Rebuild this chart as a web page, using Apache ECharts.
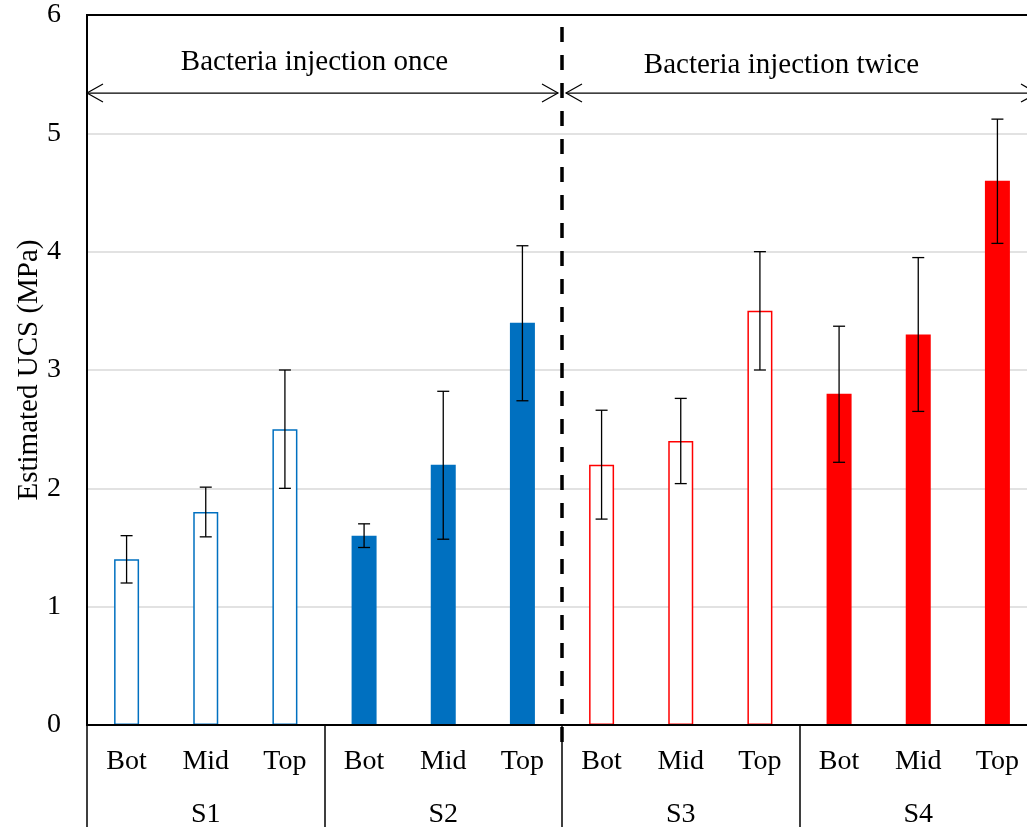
<!DOCTYPE html>
<html>
<head>
<meta charset="utf-8">
<script src="https://cdn.jsdelivr.net/npm/echarts@6/dist/echarts.min.js"></script>
<style>
  html, body { margin: 0; padding: 0; background: #fff; overflow: hidden; }
  #chart { width: 1027px; height: 827px; }
</style>
</head>
<body>
<div id="chart"></div>
<script>
// Sample positions within each column
const positions = ['Bot', 'Mid', 'Top', 'Bot', 'Mid', 'Top', 'Bot', 'Mid', 'Top', 'Bot', 'Mid', 'Top'];
// Sample groups (three positions each)
const groups = ['S1', 'S2', 'S3', 'S4'];
// Estimated UCS (MPa)
const ucs = [1.4, 1.8, 2.5, 1.6, 2.2, 3.4, 2.2, 2.4, 3.5, 2.8, 3.3, 4.6];
// Error bar range (MPa)
const errLow = [1.2, 1.59, 2.0, 1.5, 1.57, 2.74, 1.74, 2.04, 3.0, 2.22, 2.65, 4.07];
const errHigh = [1.6, 2.01, 3.0, 1.7, 2.82, 4.05, 2.66, 2.76, 4.0, 3.37, 3.95, 5.12];
// Treatment phases, spanning category boundaries
const phaseNames = ['Bacteria injection once', 'Bacteria injection twice'];
const phaseStart = [0, 6];
const phaseEnd = [6, 12];
// y-axis ticks
const yTicks = [0, 1, 2, 3, 4, 5, 6];

// Styling
const FONT = "'Liberation Serif', 'Times New Roman', serif";
const BLUE = '#0070C0';
const RED = '#FF0000';
const groupStyle = [
  { color: '#ffffff', borderColor: BLUE, borderWidth: 1.5 },
  { color: BLUE, borderColor: BLUE, borderWidth: 0 },
  { color: '#ffffff', borderColor: RED, borderWidth: 1.5 },
  { color: RED, borderColor: RED, borderWidth: 0 }
];
const layout = {
  arrowLevel: 5.34,   // y value of the span arrows
  textLevel: 5.6,     // y value of the phase captions
  textShift: [-10, -18],
  dividerBottom: -0.144
};

const perGroup = positions.length / groups.length;
const barData = ucs.map((v, i) => ({
  value: v,
  itemStyle: groupStyle[Math.floor(i / perGroup)]
}));
const errData = ucs.map((_, i) => [i, errLow[i], errHigh[i]]);
const phaseData = phaseNames.map((n, i) => [phaseStart[i], phaseEnd[i], i]);

const chart = echarts.init(document.getElementById('chart'), null, { renderer: 'canvas' });

chart.setOption({
  animation: false,
  backgroundColor: '#ffffff',
  textStyle: { fontFamily: FONT },
  grid: {
    left: 87, top: 15, right: -10, bottom: 102,
    show: true, borderColor: '#000', borderWidth: 2,
    containLabel: false, outerBoundsMode: 'none'
  },
  xAxis: [
    {
      type: 'category',
      data: positions,
      position: 'bottom',
      axisLine: { show: true, lineStyle: { color: '#000', width: 2 } },
      axisTick: { show: false },
      axisLabel: { interval: 0, margin: 23, fontSize: 28, color: '#000', fontFamily: FONT },
      splitLine: { show: false },
      z: 5
    },
    {
      type: 'category',
      data: groups,
      position: 'bottom',
      axisLine: { show: false },
      axisTick: { show: true, interval: 0, length: 104, lineStyle: { color: '#000', width: 1.5 } },
      axisLabel: { interval: 0, margin: 76, fontSize: 28, color: '#000', fontFamily: FONT },
      splitLine: { show: false }
    },
    {
      type: 'value',
      min: 0, max: 12,
      show: false
    }
  ],
  yAxis: {
    type: 'value',
    min: yTicks[0], max: yTicks[yTicks.length - 1], interval: 1,
    name: 'Estimated UCS (MPa)',
    nameLocation: 'middle',
    nameGap: 43,
    nameRotate: 90,
    nameMoveOverlap: false,
    nameTextStyle: { fontSize: 29, color: '#000', fontFamily: FONT },
    axisLine: { show: true, lineStyle: { color: '#000', width: 2 } },
    axisTick: { show: false },
    axisLabel: { margin: 26, fontSize: 28, color: '#000', fontFamily: FONT },
    splitLine: {
      show: true, showMinLine: false, showMaxLine: false,
      lineStyle: { color: '#d9d9d9', width: 1.5 }
    }
  },
  series: [
    {
      type: 'bar',
      xAxisIndex: 0,
      data: barData,
      barWidth: 25,
      z: 2
    },
    {
      type: 'custom',
      xAxisIndex: 0,
      data: errData,
      encode: { x: 0, y: [1, 2] },
      z: 4,
      renderItem: function (params, api) {
        const x = api.value(0);
        const top = api.coord([x, api.value(2)]);
        const bot = api.coord([x, api.value(1)]);
        const half = 6;
        const style = { stroke: '#000', lineWidth: 1.3 };
        return {
          type: 'group',
          children: [
            { type: 'line', shape: { x1: top[0], y1: top[1], x2: bot[0], y2: bot[1] }, style: style },
            { type: 'line', shape: { x1: top[0] - half, y1: top[1], x2: top[0] + half, y2: top[1] }, style: style },
            { type: 'line', shape: { x1: bot[0] - half, y1: bot[1], x2: bot[0] + half, y2: bot[1] }, style: style }
          ]
        };
      }
    },
    {
      // dashed divider between the two treatment phases
      type: 'custom',
      xAxisIndex: 2,
      clip: false,
      data: [[phaseEnd[0]]],
      z: 6,
      renderItem: function (params, api) {
        const x = api.value(0);
        const p0 = api.coord([x, layout.dividerBottom]);
        const p1 = api.coord([x, yTicks[yTicks.length - 1]]);
        return {
          type: 'line',
          shape: { x1: p0[0], y1: p0[1], x2: p1[0], y2: p1[1] },
          style: { stroke: '#000', lineWidth: 3.5, lineDash: [15, 13] }
        };
      }
    },
    {
      // span arrows and captions for each phase
      type: 'custom',
      xAxisIndex: 2,
      clip: false,
      data: phaseData,
      z: 6,
      renderItem: function (params, api) {
        const s = api.value(0), e = api.value(1), idx = api.value(2);
        const gap = 4, headL = 16, headW = 9;
        const a = api.coord([s, layout.arrowLevel]);
        const b = api.coord([e, layout.arrowLevel]);
        const x0 = a[0] + (s > 0 ? gap : 0);
        const x1 = b[0] - (e < 12 ? gap : 0);
        const y = a[1];
        const t = api.coord([(s + e) / 2, layout.textLevel]);
        const st = { stroke: '#000', lineWidth: 1.2, fill: null };
        return {
          type: 'group',
          children: [
            { type: 'line', shape: { x1: x0, y1: y, x2: x1, y2: y }, style: st },
            { type: 'polyline', shape: { points: [[x0 + headL, y - headW], [x0, y], [x0 + headL, y + headW]] }, style: st },
            { type: 'polyline', shape: { points: [[x1 - headL, y - headW], [x1, y], [x1 - headL, y + headW]] }, style: st },
            {
              type: 'text',
              x: t[0] + layout.textShift[idx],
              y: t[1] + (idx === 1 ? 3 : 0),
              style: {
                text: phaseNames[idx],
                fontSize: 29,
                fontFamily: FONT,
                fill: '#000',
                align: 'center',
                verticalAlign: 'middle'
              }
            }
          ]
        };
      }
    }
  ]
});
</script>
</body>
</html>
